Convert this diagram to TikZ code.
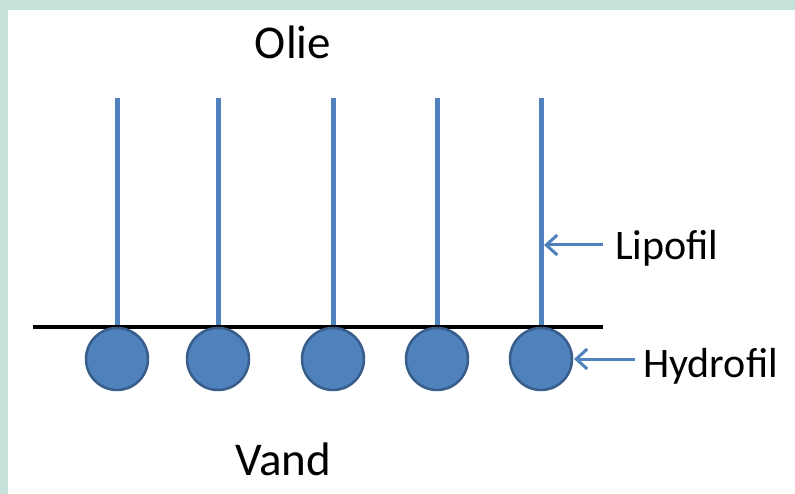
\documentclass[tikz,border=0pt]{standalone}
\usepackage{fontspec}
\setmainfont{Carlito}
\usetikzlibrary{arrows.meta}
\definecolor{frame}{HTML}{C5E3DA}
\definecolor{ballfill}{HTML}{4F81BD}
\definecolor{balledge}{HTML}{385D8A}
\definecolor{stemblue}{HTML}{4F81BD}
\tikzset{
  ball/.style={circle, fill=ballfill, draw=balledge, line width=2.5pt, minimum size=62pt, inner sep=0pt},
  stem/.style={draw=stemblue, line width=5pt},
  pointer/.style={draw=stemblue, line width=3pt, -{Straight Barb[length=11pt,width=20pt,line width=3pt]}},
  bigtxt/.style={font=\fontsize{47}{50}\selectfont, inner sep=0pt, anchor=base},
  lbl/.style={font=\fontsize{42}{45}\selectfont, inner sep=0pt, anchor=base west}
}
\begin{document}
\begin{tikzpicture}[x=1pt,y=-1pt]
\useasboundingbox (0,0) rectangle (795,494);
\fill[frame] (0,0) rectangle (795,494);
\fill[white] (8,10) rectangle (795,494);
% stems
\foreach \i/\x in {1/117,2/218,3/333,4/437,5/541}{
  \coordinate (t\i) at (\x,98);
  \coordinate (b\i) at (\x,340);
  \draw[stem] (t\i) -- (b\i);
}
% interface line
\coordinate (la) at (33,327);
\coordinate (lb) at (603,327);
\draw[line width=4pt] (la) -- (lb);
% heads
\foreach \i/\x in {1/117,2/218,3/333,4/437,5/541}{
  \node[ball] (c\i) at (\x,359) {};
}
% texts
\node[bigtxt] (olie) at (293,59) {Olie};
\node[bigtxt] (vand) at (283,475) {Vand};
\node[lbl] (lip) at (615,260) {Lipofil};
\node[lbl] (hyd) at (643,377) {Hydrofil};
% pointers
\coordinate (lipstart) at (603,245);
\coordinate (lipend) at (544,245);
\coordinate (hydstart) at (635,359);
\coordinate (hydend) at (574,359);
\draw[pointer] (lipstart) -- (lipend);
\draw[pointer] (hydstart) -- (hydend);
\end{tikzpicture}
\end{document}
